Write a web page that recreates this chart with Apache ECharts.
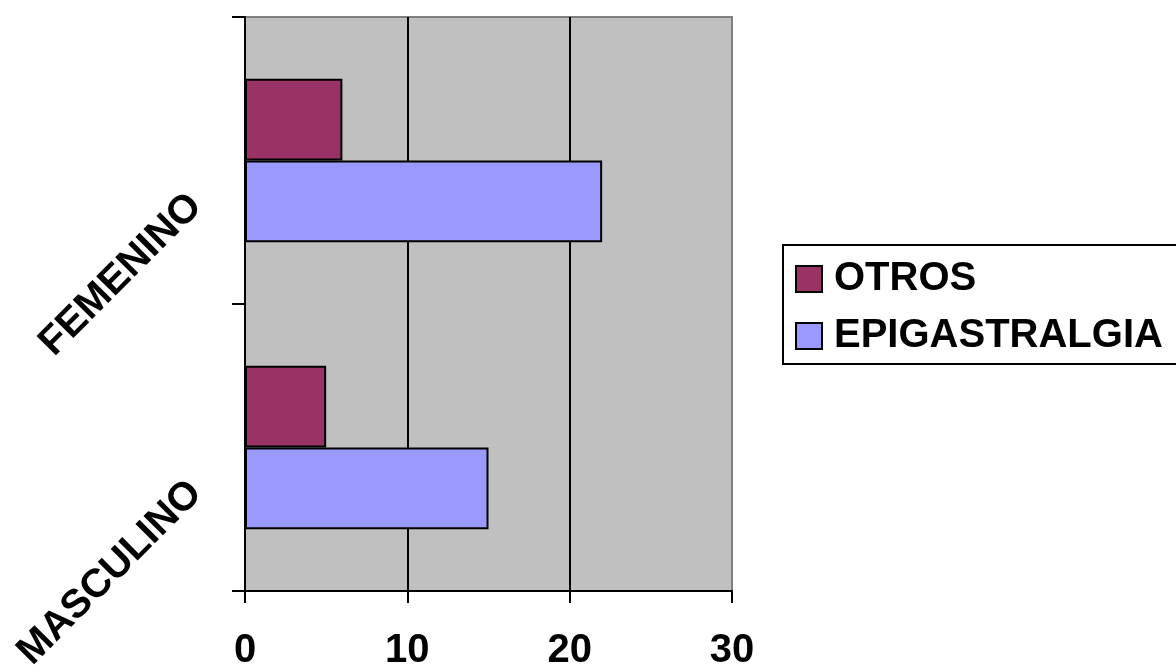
<!DOCTYPE html>
<html>
<head>
<meta charset="utf-8">
<script src="https://cdn.jsdelivr.net/npm/echarts@6/dist/echarts.min.js"></script>
<style>
  html, body { margin: 0; padding: 0; background: #ffffff; }
  #chart { width: 1176px; height: 669px; }
</style>
</head>
<body>
<div id="chart"></div>
<script>
// Categories listed bottom-to-top along the vertical axis
const categories = ['MASCULINO', 'FEMENINO'];
const seriesNames = ['OTROS', 'EPIGASTRALGIA'];
const otros = [5, 6];
const epigastralgia = [15, 22];
const xTicks = { min: 0, max: 30, interval: 10 };

const FONT = '"Liberation Sans", Arial, sans-serif';
const colors = ['#993366', '#9999FF'];

const chart = echarts.init(document.getElementById('chart'), null, { renderer: 'canvas' });

chart.setOption({
  animation: false,
  grid: {
    left: 245, right: 444, top: 17, bottom: 78,
    containLabel: false,
    outerBoundsMode: 'none',
    show: true,
    backgroundColor: '#C0C0C0',
    borderColor: '#808080',
    borderWidth: 2
  },
  legend: {
    orient: 'vertical',
    left: 783,
    top: 245,
    data: seriesNames,
    itemWidth: 26,
    itemHeight: 26,
    itemGap: 17,
    padding: [14, 30, 8, 12],
    borderColor: '#000000',
    borderWidth: 2,
    backgroundColor: '#ffffff',
    icon: 'rect',
    itemStyle: { borderColor: '#000000', borderWidth: 2 },
    formatter: '{t|{name}}',
    textStyle: {
      fontFamily: FONT, fontWeight: 'bold', fontSize: 40, color: '#000000',
      rich: { t: { fontFamily: FONT, fontWeight: 'bold', fontSize: 40, color: '#000000', padding: [0, 0, 0, 7] } }
    }
  },
  xAxis: {
    type: 'value',
    min: xTicks.min, max: xTicks.max, interval: xTicks.interval,
    axisLine: { show: true, lineStyle: { color: '#000000', width: 2 } },
    axisTick: { show: true, length: 12, lineStyle: { color: '#000000', width: 2 } },
    splitLine: { show: true, showMinLine: false, showMaxLine: false, lineStyle: { color: '#000000', width: 2 } },
    axisLabel: { fontFamily: FONT, fontWeight: 'bold', fontSize: 40, color: '#000000', margin: 40 }
  },
  yAxis: {
    type: 'category',
    data: categories,
    axisLine: { show: true, lineStyle: { color: '#000000', width: 2 } },
    axisTick: { show: true, length: 13, lineStyle: { color: '#000000', width: 2 } },
    splitLine: { show: false },
    axisLabel: {
      rotate: 45,
      align: 'right',
      verticalAlign: 'top',
      lineHeight: 112,
      margin: 89,
      fontFamily: FONT, fontWeight: 'bold', fontSize: 40, color: '#000000'
    }
  },
  series: [
    {
      name: seriesNames[0],
      type: 'bar',
      data: otros,
      barGap: '0%',
      barCategoryGap: '43%',
      itemStyle: { color: colors[0], borderColor: '#000000', borderWidth: 2 }
    },
    {
      name: seriesNames[1],
      type: 'bar',
      data: epigastralgia,
      barGap: '0%',
      barCategoryGap: '43%',
      itemStyle: { color: colors[1], borderColor: '#000000', borderWidth: 2 }
    }
  ]
});
</script>
</body>
</html>
